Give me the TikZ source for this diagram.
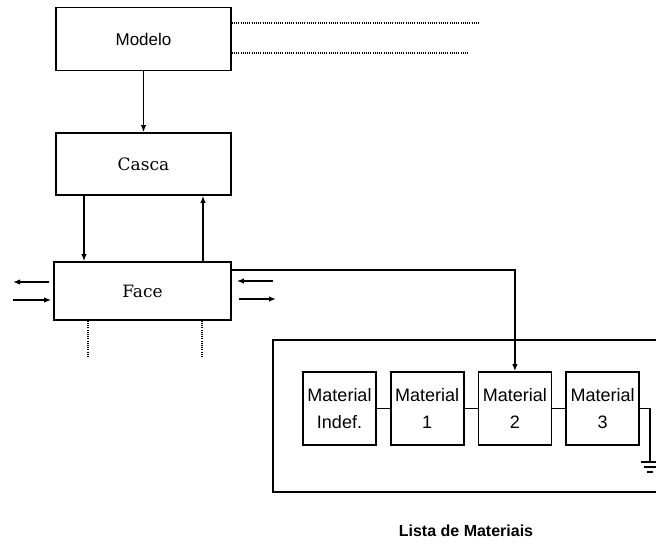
\documentclass[tikz,border=0pt]{standalone}
\usepackage{fontspec}
\setmainfont{Liberation Sans}
\newfontfamily\serifbox{DejaVu Serif}
\usetikzlibrary{arrows.meta,positioning,calc}

\begin{document}
\begin{tikzpicture}[x=1pt,y=-1pt,>={Latex[length=7pt,width=5.5pt]},
  blk/.style={draw,rectangle,line width=1.7pt,minimum width=175pt,inner sep=0pt,font=\fontsize{17}{20}\selectfont},
  sblk/.style={blk,font=\serifbox\fontsize{17}{20}\selectfont},
  mat/.style={draw,rectangle,line width=1.7pt,minimum width=73pt,minimum height=73pt,inner sep=0pt,align=center,font=\fontsize{18}{27}\selectfont},
  wire/.style={line width=1.5pt},
  dots/.style={line width=1.2pt,dash pattern=on 1pt off 1.2pt}]
  \useasboundingbox (0,0) rectangle (656,546);
  % main blocks
  \node (modelo) [blk,minimum height=63pt] at (143.5,39) {Modelo};
  \node (casca) [sblk,minimum height=62pt] at (143.5,164) {Casca};
  \node (face) [sblk,minimum width=177pt,minimum height=58pt] at (142.5,291) {Face};
  % list of materials
  \draw[wire] (660,340) -- (273,340) -- (273,492) -- (660,492);
  \node (mat0) [mat] at (339.5,408.5) {Material\\Indef.};
  \node (mat1) [mat,right=13pt of mat0] {Material\\1};
  \node (mat2) [mat,right=13pt of mat1] {Material\\2};
  \node (mat3) [mat,right=13pt of mat2] {Material\\3};
  \node (caption) [font=\bfseries\fontsize{16}{19}\selectfont] at (466,531) {Lista de Materiais};
  % free ends
  \coordinate (m1) at (480,23);
  \coordinate (m2) at (468,53);
  \coordinate (c1) at (84,0);
  \coordinate (c2) at (203,0);
  \coordinate (lo) at (13,282);
  \coordinate (li) at (13,300);
  \coordinate (ri) at (273,281);
  \coordinate (ro) at (276,299);
  \coordinate (d1) at (88,357);
  \coordinate (d2) at (202,357);
  \coordinate (gnd) at (650,462);
  % connectors
  \draw[dots] (modelo.east |- m1) -- (m1);
  \draw[dots] (modelo.east |- m2) -- (m2);
  \draw[->,wire] (modelo) -- (casca);
  \draw[->,wire] (casca.south -| c1) -- (face.north -| c1);
  \draw[<-,wire] (casca.south -| c2) -- (face.north -| c2);
  \draw[->,wire] ($(face.west |- lo)+(-4,0)$) -- (lo);
  \draw[->,wire] (li) -- ($(face.west |- li)+(-2,0)$);
  \draw[->,wire] (ri) -- ($(face.east |- ri)+(5,0)$);
  \draw[->,wire] ($(face.east |- ro)+(7,0)$) -- (ro);
  \draw[dots] (face.south -| d1) -- (d1);
  \draw[dots] (face.south -| d2) -- (d2);
  \draw[->,wire] ($(face.east)+(0,-21)$) -| (mat2.north);
  \draw[wire] (mat0) -- (mat1);
  \draw[wire] (mat1) -- (mat2);
  \draw[wire] (mat2) -- (mat3);
  \draw[wire] (mat3.east) -| (gnd);
  % ground
  \draw[wire] ($(gnd)+(-9,0)$) -- ++(18,0);
  \draw[wire] ($(gnd)+(-6,5)$) -- ++(12,0);
  \draw[wire] ($(gnd)+(-3,10)$) -- ++(6,0);
\end{tikzpicture}
\end{document}
